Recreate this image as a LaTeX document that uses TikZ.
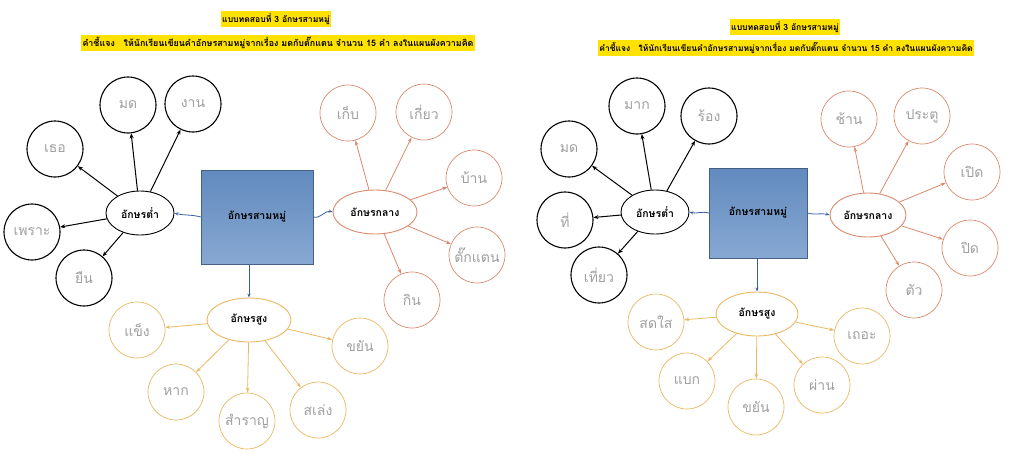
\documentclass[tikz,border=0pt]{standalone}
\usepackage{fontspec}
\newfontfamily\thaifont[Script=Thai]{Loma}
\usetikzlibrary{arrows.meta,shapes.geometric}

\definecolor{boxtop}{RGB}{98,138,190}
\definecolor{boxbottom}{RGB}{135,168,210}
\definecolor{linkblue}{RGB}{55,95,160}
\definecolor{midorange}{RGB}{218,138,108}
\definecolor{highyellow}{RGB}{234,184,98}
\definecolor{penlead}{RGB}{160,160,160}
\definecolor{markyellow}{RGB}{255,226,0}

\tikzset{
  heading/.style={fill=markyellow, inner xsep=1.5pt, inner ysep=2.5pt, font=\thaifont\bfseries\fontsize{8.6}{10}\selectfont},
  hub/.style={draw=boxtop!70!black, top color=boxtop, bottom color=boxbottom,
    minimum width=112pt, minimum height=94pt, font=\thaifont\bfseries\fontsize{10.5}{12}\selectfont},
  group/.style={ellipse, draw, fill=white, line width=0.9pt, inner sep=0pt,
    minimum width=68pt, minimum height=44pt, font=\thaifont\bfseries\fontsize{10.5}{12}\selectfont},
  word/.style={circle, draw, fill=white, minimum size=56pt, inner sep=0pt,
    text=penlead, font=\thaifont\fontsize{14}{16}\selectfont},
  lowword/.style={word, draw=black, line width=1.1pt},
  midword/.style={word, draw=midorange, line width=0.7pt},
  highword/.style={word, draw=highyellow, line width=0.7pt},
  hublink/.style={-{Stealth[length=4pt,width=3pt]}, linkblue, line width=0.8pt},
  lowlink/.style={-{Stealth[length=5pt,width=4pt]}, black, line width=1pt},
  midlink/.style={-{Stealth[length=5pt,width=3.5pt]}, midorange, line width=0.8pt},
  highlink/.style={-{Stealth[length=5pt,width=3.5pt]}, highyellow, line width=0.8pt}
}

\begin{document}
\begin{tikzpicture}[x=1pt,y=-1pt]
  \useasboundingbox (0,0) rectangle (1018,453);

  % headings
  \node[heading] (titleL) at (276,19) {แบบทดสอบที่ 3 อักษรสามหมู่};
  \node[heading, font=\thaifont\bfseries\fontsize{8.9}{10}\selectfont] (noteL) at (278,43) {คำชี้แจง\quad ให้นักเรียนเขียนคำอักษรสามหมู่จากเรื่อง มดกับตั๊กแตน จำนวน 15 คำ ลงในแผนผังความคิด};
  \node[heading] (titleR) at (785,27) {แบบทดสอบที่ 3 อักษรสามหมู่};
  \node[heading, font=\thaifont\bfseries\fontsize{8.5}{10}\selectfont] (noteR) at (786,48) {คำชี้แจง\quad ให้นักเรียนเขียนคำอักษรสามหมู่จากเรื่อง มดกับตั๊กแตน จำนวน 15 คำ ลงในแผนผังความคิด};

  %% left map
  \node[hub] (hubL) at (257,217) {อักษรสามหมู่};
  \node[group] (lowL) at (140,213) {อักษรต่ำ};
  \node[group, draw=midorange, minimum width=84pt] (midL) at (375,212) {อักษรกลาง};
  \node[group, draw=highyellow, minimum width=84pt] (highL) at (249,320) {อักษรสูง};

  \draw[hublink] (hubL.west) to[out=165,in=-15] (lowL.east);
  \draw[hublink] (hubL.east) to[out=-15,in=165] (midL.west);
  \draw[hublink] (hubL.south -| highL.north) -- (highL.north);

  \foreach \id/\at/\txt in {a/{(55,149)}/เธอ, b/{(128,105)}/มด, c/{(193,104)}/งาน,
      d/{(32,232)}/เพราะ, e/{(84,278)}/ยืน}
  {
    \node[lowword] (lowL\id) at \at {\txt};
    \draw[lowlink] (lowL) -- (lowL\id);
  }

  \foreach \id/\at/\txt in {a/{(348,113)}/เก็บ, b/{(424,112)}/เกี่ยว, c/{(474,178)}/บ้าน,
      d/{(477,255)}/ตั๊กแตน, e/{(412,300)}/กิน}
  {
    \node[midword] (midL\id) at \at {\txt};
    \draw[midlink] (midL) -- (midL\id);
  }

  \foreach \id/\at/\txt in {a/{(137,330)}/แข็ง, b/{(176,392)}/หาก, c/{(247,421)}/สำราญ,
      d/{(318,410)}/สเล่ง, e/{(360,346)}/ขยัน}
  {
    \node[highword] (highL\id) at \at {\txt};
    \draw[highlink] (highL) -- (highL\id);
  }

  %% right map
  \node[hub, minimum width=98pt, minimum height=90pt] (hubR) at (758,213) {อักษรสามหมู่};
  \node[group] (lowR) at (655,212) {อักษรต่ำ};
  \node[group, draw=midorange, minimum width=76pt] (midR) at (868,215) {อักษรกลาง};
  \node[group, draw=highyellow, minimum width=82pt] (highR) at (757,314) {อักษรสูง};

  \draw[hublink] (hubR.west) to[out=165,in=-15] (lowR.east);
  \draw[hublink] (hubR.east) to[out=-15,in=165] (midR.west);
  \draw[hublink] (hubR.south -| highR.north) -- (highR.north);

  \foreach \id/\at/\txt in {a/{(569,149)}/มด, b/{(637,106)}/มาก, c/{(709,116)}/ร้อง,
      d/{(565,220)}/ที่, e/{(599,275)}/เที่ยว}
  {
    \node[lowword] (lowR\id) at \at {\txt};
    \draw[lowlink] (lowR) -- (lowR\id);
  }

  \foreach \id/\at/\txt in {a/{(849,119)}/ช้าน, b/{(922,116)}/ประตู, c/{(972,172)}/เปิด,
      d/{(970,248)}/ปิด, e/{(914,290)}/ตัว}
  {
    \node[midword] (midR\id) at \at {\txt};
    \draw[midlink] (midR) -- (midR\id);
  }

  \foreach \id/\at/\txt in {a/{(656,322)}/สดใส, b/{(687,381)}/แบก, c/{(756,407)}/ขยัน,
      d/{(822,385)}/ผ่าน, e/{(862,336)}/เถอะ}
  {
    \node[highword] (highR\id) at \at {\txt};
    \draw[highlink] (highR) -- (highR\id);
  }
\end{tikzpicture}
\end{document}
